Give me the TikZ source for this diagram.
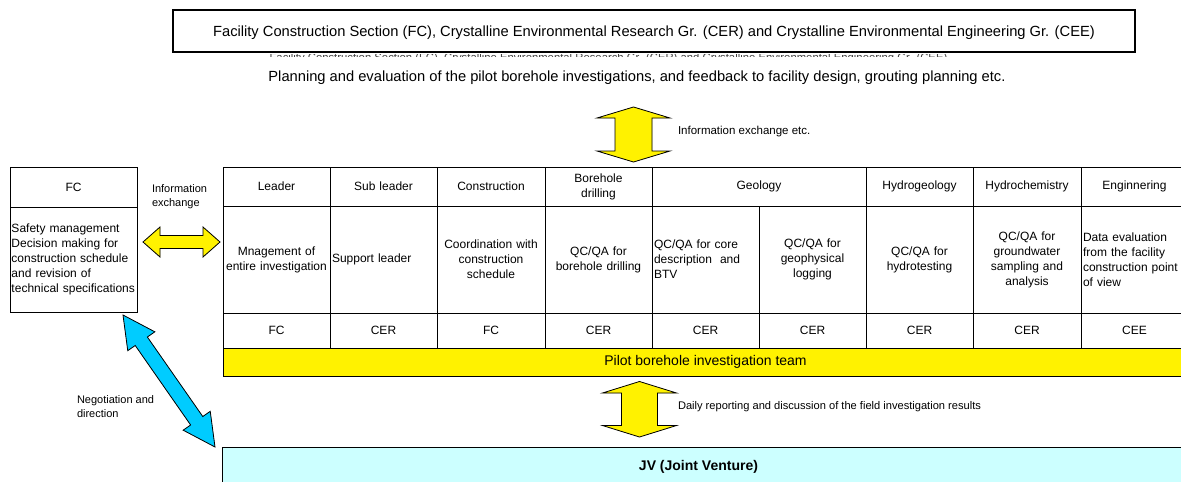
\documentclass[tikz,border=0pt]{standalone}
\usepackage{fontspec}
\setmainfont{Liberation Sans}
\usetikzlibrary{calc}

\definecolor{teamyellow}{RGB}{255,242,0}
\definecolor{jvcyan}{RGB}{204,255,255}
\definecolor{negblue}{RGB}{0,204,255}
\definecolor{arrowshadow}{RGB}{120,120,120}

\newcommand{\fsz}[2]{\fontsize{#1}{#2}\selectfont}

% Double-headed block arrow between two named points:
% #1 style, #2/#3 tips, #4 shaft half width, #5 head half width, #6 head length
\newcommand{\blockarrow}[6][]{%
  \coordinate (ba@p) at ($(#2)!#6!(#3)$);
  \coordinate (ba@q) at ($(#3)!#6!(#2)$);
  \path[#1] (#2) -- ($(ba@p)!#5!90:(#3)$) -- ($(ba@p)!#4!90:(#3)$)
    -- ($(ba@q)!#4!-90:(#2)$) -- ($(ba@q)!#5!-90:(#2)$) -- (#3)
    -- ($(ba@q)!#5!90:(#2)$) -- ($(ba@q)!#4!90:(#2)$)
    -- ($(ba@p)!#4!-90:(#3)$) -- ($(ba@p)!#5!-90:(#3)$) -- cycle;
}

\tikzset{
  every node/.style={inner sep=0pt, outer sep=0pt},
  cell/.style={draw, line width=1pt, inner xsep=2pt, inner ysep=0pt,
    text width=#1, align=center, font=\fsz{12}{15}},
  cell/.default=103pt,
  headrow/.style={minimum height=39pt},
  bodyrow/.style={minimum height=107pt},
  orgrow/.style={minimum height=35.5pt},
  label/.style={font=\fsz{11}{14}, align=left},
  yellowarrow/.style={fill=teamyellow, draw=black, line width=0.8pt, line join=miter},
  bluearrow/.style={fill=negblue, draw=black, line width=0.8pt, line join=miter},
  arrowshade/.style={shift={(1.3,1.3)}},
}

\begin{document}
\begin{tikzpicture}[x=1pt, y=-1pt]
\useasboundingbox (0,0) rectangle (1181,482);
\clip (0,0) rectangle (1181,482);

% ---- title box and planning line ----
\node[draw, line width=1.6pt, minimum width=962pt, minimum height=42pt] (title) at (654,31) {};
\node[font=\fsz{14.7}{17}] (titletext) at (654,33)
  {Facility Construction Section (FC), Crystalline Environmental Research Gr. (CER) and Crystalline Environmental Engineering Gr. (CEE)};
% a second, smaller copy of the title, cut off just below the box
\begin{scope}
  \clip (200,54) rectangle (1000,56.8);
  \node[font=\fsz{11.3}{13}, text=black!75, anchor=north] (titleecho) at (608.5,53.8)
    {Facility Construction Section (FC), Crystalline Environmental Research Gr. (CER) and Crystalline Environmental Engineering Gr. (CEE)};
\end{scope}
\node[font=\fsz{14.7}{17}] (planning) at (637,78)
  {Planning and evaluation of the pilot borehole investigations, and feedback to facility design, grouting planning etc.};

% ---- FC box ----
\node[cell=124pt, inner xsep=1.5pt, minimum height=40pt] (fchead) at (73.5,187) {FC};
\node[cell=124pt, inner xsep=1.5pt, minimum height=105pt, align=left] (fcbody) at (73.5,259.5)
  {Safety management\\Decision making for\\construction schedule\\and revision of\\technical specifications};

% ---- team table: header row ----
\node[cell, headrow] (hLeader) at (276.5,186.5) {Leader};
\node[cell, headrow] (hSub) at (383.5,186.5) {Sub leader};
\node[cell=104pt, headrow] (hCons) at (491,186.5) {Construction};
\node[cell, headrow] (hDrill) at (598.5,186.5) {Borehole\\drilling};
\node[cell=210pt, headrow] (hGeo) at (759,186.5) {Geology};
\node[cell, headrow] (hHydro) at (919.5,186.5) {Hydrogeology};
\node[cell=104pt, headrow] (hChem) at (1027,186.5) {Hydrochemistry};
\node[cell, headrow] (hEng) at (1134.5,186.5) {Enginnering};

% ---- team table: duties ----
\node[cell, bodyrow] (dLeader) at (276.5,259.5) {Mnagement of\\entire investigation};
\node[cell, bodyrow, align=left] (dSub) at (383.5,259.5) {Support leader};
\node[cell=104pt, bodyrow] (dCons) at (491,259.5) {Coordination with\\construction\\schedule};
\node[cell, bodyrow] (dDrill) at (598.5,259.5) {QC/QA for\\borehole drilling};
\node[cell, bodyrow, align=left] (dCore) at (705.5,259.5) {QC/QA for core\\description~ and\\BTV};
\node[cell, bodyrow] (dLog) at (812.5,259.5) {QC/QA for\\geophysical\\logging};
\node[cell, bodyrow] (dHydro) at (919.5,259.5) {QC/QA for\\hydrotesting};
\node[cell=104pt, bodyrow] (dChem) at (1027,259.5) {QC/QA for\\groundwater\\sampling and\\analysis};
\node[cell, bodyrow, align=left] (dEng) at (1134.5,259.5) {Data evaluation\\from the facility\\construction point\\of view};

% ---- team table: responsible group ----
\node[cell, orgrow] (oLeader) at (276.5,330.75) {FC};
\node[cell, orgrow] (oSub) at (383.5,330.75) {CER};
\node[cell=104pt, orgrow] (oCons) at (491,330.75) {FC};
\node[cell, orgrow] (oDrill) at (598.5,330.75) {CER};
\node[cell, orgrow] (oCore) at (705.5,330.75) {CER};
\node[cell, orgrow] (oLog) at (812.5,330.75) {CER};
\node[cell, orgrow] (oHydro) at (919.5,330.75) {CER};
\node[cell=104pt, orgrow] (oChem) at (1027,330.75) {CER};
\node[cell, orgrow] (oEng) at (1134.5,330.75) {CEE};

% ---- team band ----
\node[draw, line width=1pt, fill=teamyellow, minimum width=965pt, minimum height=27.5pt,
      font=\fsz{14}{16}] (team) at (705.5,362.25) {Pilot borehole investigation team};

% ---- joint venture ----
\node[draw, line width=1pt, fill=jvcyan, minimum width=990pt, minimum height=60pt,
      anchor=north west] (jv) at (222,447) {};
\node[font=\bfseries\fsz{14}{16}] (jvtext) at (698.5,467) {JV (Joint Venture)};

% ---- arrow end points ----
\coordinate (infoTop) at (633.5,107);
\coordinate (infoBot) at (633.5,162);
\coordinate (dailyTop) at (639.5,381.5);
\coordinate (dailyBot) at (639.5,437);
\coordinate (fcxL) at (143,242);
\coordinate (fcxR) at (220,242);
\coordinate (negA) at (123,315);
\coordinate (negB) at (215,447);

% ---- block arrows, each over a soft grey offset copy ----
\begin{scope}[arrowshade]
  \blockarrow[fill=arrowshadow]{infoTop}{infoBot}{18.5pt}{36.5pt}{11pt}
  \blockarrow[fill=arrowshadow]{dailyTop}{dailyBot}{18pt}{37pt}{11.5pt}
  \blockarrow[fill=arrowshadow]{fcxL}{fcxR}{6.5pt}{15pt}{17pt}
  \blockarrow[fill=arrowshadow]{negA}{negB}{7.4pt}{16.5pt}{32pt}
\end{scope}
\blockarrow[yellowarrow]{infoTop}{infoBot}{18.5pt}{36.5pt}{11pt}
\blockarrow[yellowarrow]{dailyTop}{dailyBot}{18pt}{37pt}{11.5pt}
\blockarrow[yellowarrow]{fcxL}{fcxR}{6.5pt}{15pt}{17pt}
\blockarrow[bluearrow]{negA}{negB}{7.4pt}{16.5pt}{32pt}

% ---- arrow labels ----
\node[font=\fsz{11.5}{14}, anchor=west] (infolabel) at (678,132) {Information exchange etc.};
\node[label, anchor=north west] (fcxlabel) at (152,184.5) {Information\\exchange};
\node[label, anchor=north west] (neglabel) at (77,396) {Negotiation and\\direction};
\node[font=\fsz{11.1}{13}, anchor=west] (dailylabel) at (678,407) {Daily reporting and discussion of the field investigation results};
\end{tikzpicture}
\end{document}
